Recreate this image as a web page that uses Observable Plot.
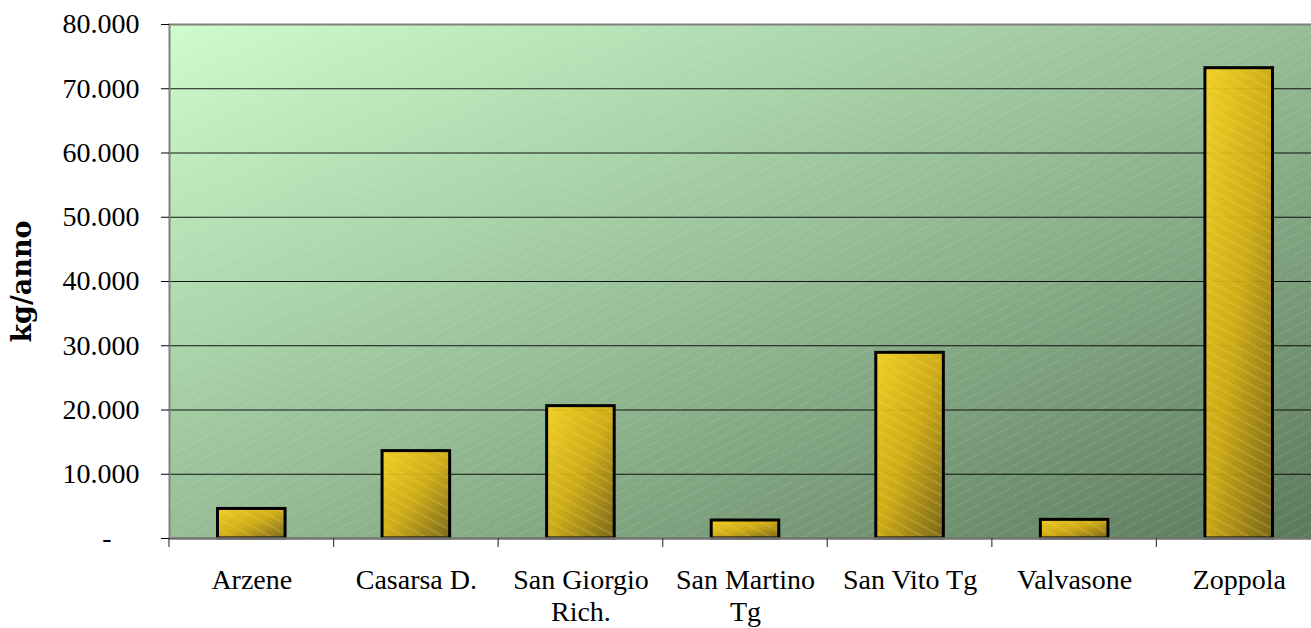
<!DOCTYPE html>
<html><head><meta charset="utf-8">
<script src="https://cdn.jsdelivr.net/npm/d3@7"></script>
<script src="https://cdn.jsdelivr.net/npm/@observablehq/plot@0.6"></script>
<style>
body{margin:0;background:#fff;overflow:hidden;}
#chart svg{display:block;}
</style></head><body><div id="chart"></div>
<script>
// ---- data ----
const categories = ["Arzene","Casarsa D.","San Giorgio Rich.","San Martino Tg","San Vito Tg","Valvasone","Zoppola"];
const values = [4600, 13600, 20600, 2800, 28900, 2900, 73200];
const tickLabels = ["Arzene","Casarsa D.","San Giorgio\nRich.","San Martino\nTg","San Vito Tg","Valvasone","Zoppola"];
const yTicks = [0,10000,20000,30000,40000,50000,60000,70000,80000];
const gridTicks = [10000,20000,30000,40000,50000,60000,70000];
const yLabel = ["kg/anno"];

const data = categories.map((c,i)=>({cat:c, value:values[i]}));
const labelOf = new Map(categories.map((c,i)=>[c, tickLabels[i]]));
const it = d3.formatLocale({decimal:",", thousands:".", grouping:[3], currency:["€",""]});
const fmt = it.format(",d");
const yFormat = v => v === 0 ? "-\u2007\u2007" : fmt(v);

const FONT = "Liberation Serif";

const defsMark = () => {
  const d = d3.create("svg:defs");
  d.html(`
    <linearGradient id="bgGrad" x1="0" y1="0" x2="1" y2="1">
      <stop offset="0" stop-color="#cdfccd"/>
      <stop offset="0.5" stop-color="#96bd96"/>
      <stop offset="1" stop-color="#5b785b"/>
    </linearGradient>
    <pattern id="bgHatch" patternUnits="userSpaceOnUse" width="9" height="9" patternTransform="rotate(-28)">
      <line x1="0" y1="4.5" x2="9" y2="4.5" stroke="#ffffff" stroke-opacity="0.3" stroke-width="0.7" stroke-dasharray="1.5 1.5"/>
    </pattern>
    <linearGradient id="barGrad" x1="0" y1="0" x2="1" y2="1">
      <stop offset="0" stop-color="#f8d21c"/>
      <stop offset="0.5" stop-color="#d4ac10"/>
      <stop offset="1" stop-color="#7a6414"/>
    </linearGradient>
    <pattern id="barHatch" patternUnits="userSpaceOnUse" width="9" height="9" patternTransform="rotate(28)">
      <line x1="0" y1="4.5" x2="9" y2="4.5" stroke="#ffe060" stroke-opacity="0.25" stroke-width="1.5"/>
    </pattern>`);
  return d.node();
};

// tick marks at the category boundaries
const boundaryTicks = (index, scales, values, dims) => {
  const g = d3.create("svg:g");
  const x = scales.x;
  const y0 = dims.height - dims.marginBottom;
  const edges = categories.map(c => x(c)).concat([x(categories[categories.length-1]) + x.bandwidth()]);
  for (const e of edges) {
    g.append("line").attr("x1", e).attr("x2", e).attr("y1", y0).attr("y2", y0 + 9)
      .attr("stroke", "#404040").attr("stroke-width", 1.2);
  }
  return g.node();
};

const chart = Plot.plot({
  width: 1311,
  height: 628,
  marginLeft: 169,
  marginRight: -10,
  marginTop: 24,
  marginBottom: 90,
  style: {fontFamily: FONT, fontSize: "28px", color: "#000", background: "#fff", overflow: "hidden"},
  x: {domain: categories, padding: 0, round: false, label: null},
  y: {domain: [0, 80000], label: null},
  marks: [
    defsMark,
    Plot.frame({fill: "url(#bgGrad)", stroke: null}),
    Plot.frame({fill: "url(#bgHatch)", stroke: null}),
    Plot.ruleY(gridTicks, {stroke: "#000", strokeOpacity: 0.9, strokeWidth: 1}),
    Plot.barY(data, {x: "cat", y: "value", fill: "url(#barGrad)", insetLeft: 48.5, insetRight: 48.5, fillOpacity: 0.92}),
    Plot.barY(data, {x: "cat", y: "value", fill: "url(#barHatch)", insetLeft: 48.5, insetRight: 48.5}),
    Plot.barY(data, {x: "cat", y: "value", fill: "none", stroke: "#000", strokeWidth: 3, insetLeft: 48.5, insetRight: 48.5}),
    Plot.frame({stroke: "#808080", strokeWidth: 2, fill: "none"}),
    Plot.ruleY([0], {stroke: "#707070", strokeWidth: 2}),
    boundaryTicks,
    Plot.axisY({ticks: yTicks, tickFormat: yFormat, tickSize: 8, tickPadding: 22, fontSize: 28, stroke: "#000", label: null}),
    Plot.axisX({tickSize: 0, tickPadding: 28, fontSize: 28, lineHeight: 1.13, tickFormat: c => labelOf.get(c), label: null}),
    Plot.text(yLabel, {frameAnchor: "left", textAnchor: "middle", rotate: -90, dx: -147, fontWeight: "bold", fontSize: 27, fontFamily: "DejaVu Serif", fill: "#000"})
  ]
});
document.getElementById("chart").appendChild(chart);
</script>
</body></html>
